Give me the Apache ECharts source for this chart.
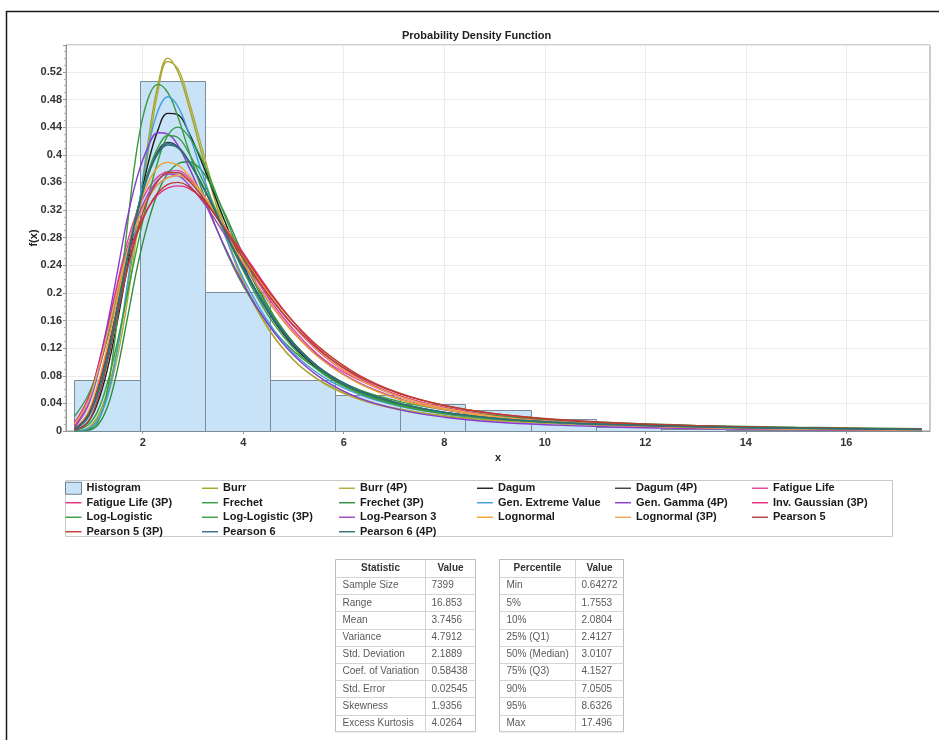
<!DOCTYPE html>
<html>
<head>
<meta charset="utf-8">
<title>Probability Density Function</title>
<script src="https://cdn.jsdelivr.net/npm/echarts@6/dist/echarts.min.js"></script>
<style>
  html, body { margin: 0; padding: 0; background: #ffffff; }
  #chart { width: 939px; height: 740px; }
</style>
</head>
<body>
<div id="chart"></div>
<script>
// ---- histogram: 13 equal-width bins between sample min and max ----
const binEdges = [0.64272, 1.93910, 3.23548, 4.53186, 5.82824, 7.12462, 8.42100,
                  9.71738, 11.01376, 12.31014, 13.60652, 14.90290, 16.19928, 17.49566];
const binDensity = [0.0732, 0.5075, 0.2017, 0.0732, 0.0515, 0.0385, 0.0310,
                    0.0168, 0.0060, 0.0030, 0.0016, 0.0008, 0.0004];

// ---- fitted density curves, sampled at fitX ----
const fitX = [0.643, 0.9, 1.1, 1.3, 1.5, 1.7, 1.9, 2.1, 2.3, 2.5, 2.7, 2.9, 3.2, 3.6,
              4.0, 4.5, 5.0, 5.6, 6.3, 7.1, 8.0, 9.0, 10.2, 11.5, 13, 15, 17.496];

const burr          = [0, 0.004, 0.02, 0.058, 0.12, 0.205, 0.31, 0.415, 0.5, 0.54, 0.52, 0.475, 0.395, 0.295, 0.215, 0.148, 0.103, 0.07, 0.047, 0.032, 0.022, 0.0155, 0.011, 0.008, 0.0055, 0.0037, 0.0022];
const burr4p        = [0, 0.003, 0.016, 0.05, 0.108, 0.19, 0.295, 0.4, 0.49, 0.535, 0.525, 0.483, 0.405, 0.302, 0.218, 0.149, 0.103, 0.069, 0.046, 0.031, 0.021, 0.015, 0.0105, 0.0075, 0.0052, 0.0035, 0.0021];
const dagum         = [0.001, 0.012, 0.04, 0.09, 0.16, 0.24, 0.318, 0.385, 0.435, 0.46, 0.458, 0.435, 0.385, 0.31, 0.24, 0.172, 0.123, 0.084, 0.056, 0.038, 0.026, 0.018, 0.0125, 0.0088, 0.006, 0.004, 0.0024];
const dagum4p       = [0.003, 0.022, 0.06, 0.115, 0.183, 0.256, 0.322, 0.372, 0.405, 0.418, 0.412, 0.393, 0.354, 0.294, 0.236, 0.174, 0.127, 0.087, 0.059, 0.04, 0.027, 0.0185, 0.0128, 0.009, 0.0062, 0.004, 0.0024];
const fatigueLife   = [0.005, 0.035, 0.085, 0.148, 0.215, 0.275, 0.32, 0.35, 0.368, 0.376, 0.377, 0.368, 0.343, 0.298, 0.25, 0.193, 0.147, 0.104, 0.074, 0.05, 0.033, 0.021, 0.0135, 0.0085, 0.005, 0.0028, 0.0013];
const fatigueLife3p = [0.007, 0.04, 0.09, 0.15, 0.212, 0.265, 0.307, 0.337, 0.357, 0.367, 0.37, 0.364, 0.342, 0.3, 0.254, 0.198, 0.152, 0.109, 0.075, 0.051, 0.034, 0.022, 0.014, 0.009, 0.0055, 0.003, 0.0015];
const frechet       = [0, 0.002, 0.012, 0.06, 0.165, 0.3, 0.415, 0.48, 0.502, 0.49, 0.455, 0.41, 0.345, 0.27, 0.21, 0.155, 0.116, 0.084, 0.06, 0.043, 0.031, 0.0225, 0.016, 0.0115, 0.0082, 0.0055, 0.0035];
const frechet3p     = [0, 0.001, 0.008, 0.035, 0.09, 0.165, 0.24, 0.3, 0.345, 0.373, 0.387, 0.39, 0.375, 0.32, 0.255, 0.18, 0.128, 0.086, 0.058, 0.04, 0.027, 0.019, 0.0128, 0.009, 0.006, 0.004, 0.0024];
const genExtreme    = [0, 0.003, 0.015, 0.05, 0.12, 0.215, 0.315, 0.405, 0.463, 0.484, 0.47, 0.435, 0.37, 0.29, 0.222, 0.158, 0.113, 0.078, 0.053, 0.036, 0.025, 0.0175, 0.0122, 0.0087, 0.006, 0.004, 0.0025];
const genGamma4p    = [0.006, 0.038, 0.09, 0.155, 0.232, 0.31, 0.37, 0.41, 0.432, 0.43, 0.414, 0.385, 0.337, 0.272, 0.213, 0.154, 0.11, 0.074, 0.048, 0.031, 0.02, 0.013, 0.0085, 0.0055, 0.0035, 0.002, 0.001];
const invGaussian3p = [0.012, 0.045, 0.09, 0.145, 0.2, 0.252, 0.292, 0.322, 0.342, 0.352, 0.355, 0.352, 0.336, 0.3, 0.258, 0.205, 0.158, 0.113, 0.077, 0.051, 0.033, 0.021, 0.013, 0.008, 0.0047, 0.0025, 0.0011];
const logLogistic   = [0.001, 0.008, 0.028, 0.07, 0.13, 0.2, 0.27, 0.335, 0.39, 0.428, 0.44, 0.428, 0.39, 0.318, 0.248, 0.177, 0.126, 0.086, 0.057, 0.038, 0.026, 0.018, 0.0125, 0.009, 0.0063, 0.0042, 0.0027];
const logLogistic3p = [0.021, 0.05, 0.085, 0.135, 0.195, 0.26, 0.322, 0.373, 0.41, 0.428, 0.425, 0.405, 0.362, 0.296, 0.232, 0.167, 0.12, 0.082, 0.055, 0.037, 0.025, 0.0175, 0.0122, 0.0087, 0.006, 0.004, 0.0026];
const logPearson3   = [0.006, 0.035, 0.08, 0.14, 0.205, 0.265, 0.31, 0.342, 0.363, 0.372, 0.37, 0.358, 0.332, 0.288, 0.242, 0.188, 0.143, 0.102, 0.07, 0.047, 0.031, 0.02, 0.013, 0.0083, 0.0052, 0.003, 0.0015];
const lognormal     = [0.003, 0.025, 0.066, 0.125, 0.193, 0.26, 0.318, 0.358, 0.382, 0.389, 0.385, 0.372, 0.342, 0.293, 0.244, 0.188, 0.142, 0.101, 0.069, 0.046, 0.031, 0.02, 0.013, 0.0085, 0.0054, 0.0032, 0.0016];
const lognormal3p   = [0.01, 0.04, 0.085, 0.142, 0.205, 0.262, 0.305, 0.337, 0.357, 0.367, 0.37, 0.364, 0.342, 0.3, 0.254, 0.2, 0.153, 0.11, 0.075, 0.05, 0.033, 0.021, 0.0133, 0.0083, 0.005, 0.0027, 0.0012];
const pearson5      = [0.001, 0.012, 0.045, 0.1, 0.168, 0.235, 0.292, 0.335, 0.362, 0.374, 0.374, 0.364, 0.338, 0.295, 0.25, 0.197, 0.153, 0.112, 0.079, 0.054, 0.037, 0.025, 0.017, 0.0115, 0.0077, 0.0048, 0.0027];
const pearson5_3p   = [0.003, 0.022, 0.06, 0.115, 0.178, 0.238, 0.287, 0.322, 0.345, 0.357, 0.36, 0.355, 0.335, 0.297, 0.255, 0.203, 0.158, 0.116, 0.081, 0.055, 0.037, 0.025, 0.0165, 0.011, 0.0072, 0.0045, 0.0025];
const pearson6      = [0.003, 0.02, 0.056, 0.11, 0.18, 0.254, 0.32, 0.37, 0.403, 0.416, 0.411, 0.393, 0.354, 0.294, 0.235, 0.172, 0.125, 0.086, 0.058, 0.04, 0.027, 0.0185, 0.0127, 0.0088, 0.006, 0.0039, 0.0022];
const pearson6_4p   = [0.002, 0.018, 0.052, 0.106, 0.176, 0.25, 0.317, 0.368, 0.401, 0.414, 0.41, 0.392, 0.354, 0.295, 0.237, 0.174, 0.127, 0.087, 0.059, 0.04, 0.027, 0.0185, 0.0127, 0.0088, 0.006, 0.0039, 0.0022];

const fitNames = ['Burr', 'Burr (4P)', 'Dagum', 'Dagum (4P)', 'Fatigue Life',
  'Fatigue Life (3P)', 'Frechet', 'Frechet (3P)', 'Gen. Extreme Value', 'Gen. Gamma (4P)',
  'Inv. Gaussian (3P)', 'Log-Logistic', 'Log-Logistic (3P)', 'Log-Pearson 3', 'Lognormal',
  'Lognormal (3P)', 'Pearson 5', 'Pearson 5 (3P)', 'Pearson 6', 'Pearson 6 (4P)'];
const fitValues = [burr, burr4p, dagum, dagum4p, fatigueLife,
  fatigueLife3p, frechet, frechet3p, genExtreme, genGamma4p,
  invGaussian3p, logLogistic, logLogistic3p, logPearson3, lognormal,
  lognormal3p, pearson5, pearson5_3p, pearson6, pearson6_4p];

// ---- axis ticks ----
const xTickValues = [2, 4, 6, 8, 10, 12, 14, 16];

// ---- descriptive statistics tables ----
const statHeads = ['Statistic', 'Value'];
const statLabels = ['Sample Size', 'Range', 'Mean', 'Variance', 'Std. Deviation',
  'Coef. of Variation', 'Std. Error', 'Skewness', 'Excess Kurtosis'];
const statValues = ['7399', '16.853', '3.7456', '4.7912', '2.1889', '0.58438', '0.02545', '1.9356', '4.0264'];
const pctHeads = ['Percentile', 'Value'];
const pctLabels = ['Min', '5%', '10%', '25% (Q1)', '50% (Median)', '75% (Q3)', '90%', '95%', 'Max'];
const pctValues = ['0.64272', '1.7553', '2.0804', '2.4127', '3.0107', '4.1527', '7.0505', '8.6326', '17.496'];

// ---- styling ----
const fitColors = ['#a3a32a', '#b0aa3a', '#1c1c1c', '#3a3a46', '#e8409a',
  '#e0307a', '#3a9a3a', '#2f8c3f', '#3fa0d8', '#8a3ad0',
  '#e82a80', '#2fa040', '#3f9a46', '#a044c0', '#f0a030',
  '#e8a850', '#b04040', '#c0392b', '#2f6a86', '#2f7070'];
const histFill = '#c8e2f8';
const histStroke = '#7d8b99';
const uiFont = '"Liberation Sans", Arial, sans-serif';

const chart = echarts.init(document.getElementById('chart'));

const histSeries = {
  type: 'custom',
  name: 'Histogram',
  z: 2,
  silent: true,
  data: binDensity.map((h, i) => [binEdges[i], binEdges[i + 1], h]),
  encode: { x: [0, 1], y: 2 },
  itemStyle: { color: histFill, borderColor: histStroke, borderWidth: 1 },
  renderItem: function (params, api) {
    const topLeft = api.coord([api.value(0), api.value(2)]);
    const bottomRight = api.coord([api.value(1), 0]);
    return {
      type: 'rect',
      shape: {
        x: Math.round(topLeft[0]) + 0.5,
        y: Math.round(topLeft[1]) + 0.5,
        width: Math.round(bottomRight[0]) - Math.round(topLeft[0]),
        height: Math.round(bottomRight[1]) - Math.round(topLeft[1])
      },
      style: { fill: histFill, stroke: histStroke, lineWidth: 1 }
    };
  },
  markLine: {
    silent: true,
    z: 1,
    symbol: ['none', 'none'],
    label: { show: false },
    animation: false,
    lineStyle: { color: '#ececec', width: 1, type: 'solid' },
    data: xTickValues.map(v => ({ xAxis: v }))
  }
};

const fitSeries = fitNames.map((name, i) => ({
  type: 'line',
  name: name,
  z: 3,
  silent: true,
  smooth: 0.4,
  symbol: 'none',
  data: fitX.map((x, k) => [x, fitValues[i][k]]),
  lineStyle: { width: 1.4, color: fitColors[i] },
  itemStyle: { color: fitColors[i] }
}));

// legend laid out as six columns, row-major order
const legendNames = ['Histogram'].concat(fitNames);
const legendLefts = [65, 202, 339, 477, 615, 752];
const legends = legendLefts.map((left, c) => ({
  orient: 'vertical',
  left: left,
  top: 481,
  padding: 0,
  itemGap: 0,
  itemWidth: 16,
  itemHeight: 12,
  symbolKeepAspect: true,
  selectedMode: false,
  itemStyle: { borderWidth: 0 },
  textStyle: { fontFamily: uiFont, fontSize: 11, fontWeight: 'bold', color: '#1a1a1a', lineHeight: 14.5 },
  data: legendNames.filter((n, k) => k % 6 === c).map(n => n === 'Histogram'
    ? { name: n, icon: 'rect', itemStyle: { color: histFill, borderColor: '#6f7f8f', borderWidth: 1 } }
    : { name: n, icon: 'path://M0,0H16V1.4H0Z' })
}));

function buildTable(x0, xDiv, x1, top, headH, rowH, heads, labels, values) {
  const n = labels.length;
  const bottom = top + headH + n * rowH;
  const els = [{
    type: 'rect', z: 10,
    shape: { x: x0, y: top, width: x1 - x0, height: bottom - top },
    style: { fill: '#ffffff', stroke: '#bcbcbc', lineWidth: 1 }
  }];
  for (let i = 0; i < n; i++) {
    const y = Math.round(top + headH + i * rowH) + 0.5;
    els.push({ type: 'line', z: 11, shape: { x1: x0, y1: y, x2: x1, y2: y },
      style: { stroke: '#d4d4d4', lineWidth: 1 } });
  }
  els.push({ type: 'line', z: 11, shape: { x1: xDiv, y1: top, x2: xDiv, y2: bottom },
    style: { stroke: '#d4d4d4', lineWidth: 1 } });
  els.push({ type: 'text', z: 12, x: (x0 + xDiv) / 2, y: top + headH / 2,
    style: { text: heads[0], align: 'center', verticalAlign: 'middle', font: 'bold 10px ' + uiFont, fill: '#333' } });
  els.push({ type: 'text', z: 12, x: (xDiv + x1) / 2, y: top + headH / 2,
    style: { text: heads[1], align: 'center', verticalAlign: 'middle', font: 'bold 10px ' + uiFont, fill: '#333' } });
  labels.forEach((t, i) => {
    const yc = top + headH + i * rowH + rowH / 2;
    els.push({ type: 'text', z: 12, x: x0 + 7, y: yc,
      style: { text: t, align: 'left', verticalAlign: 'middle', font: '10px ' + uiFont, fill: '#5a5a5a' } });
    els.push({ type: 'text', z: 12, x: xDiv + 6, y: yc,
      style: { text: values[i], align: 'left', verticalAlign: 'middle', font: '10px ' + uiFont, fill: '#5a5a5a' } });
  });
  return els;
}

const graphics = [
  // page frame
  { type: 'line', shape: { x1: 6, y1: 11.5, x2: 939, y2: 11.5 }, style: { stroke: '#1a1a1a', lineWidth: 1.5 } },
  { type: 'line', shape: { x1: 6.5, y1: 11, x2: 6.5, y2: 740 }, style: { stroke: '#1a1a1a', lineWidth: 1.5 } },
  // legend frame
  { type: 'rect', shape: { x: 65.5, y: 480.5, width: 827, height: 56 },
    style: { fill: 'none', stroke: '#c9c9c9', lineWidth: 1 } }
].concat(
  buildTable(335.5, 425.5, 475.5, 559.5, 17.5, 17.2, statHeads, statLabels, statValues),
  buildTable(499.5, 575.5, 623.5, 559.5, 17.5, 17.2, pctHeads, pctLabels, pctValues)
);

chart.setOption({
  animation: false,
  backgroundColor: '#ffffff',
  title: {
    text: 'Probability Density Function',
    left: 402, top: 30, padding: 0,
    textStyle: { fontFamily: uiFont, fontSize: 11, fontWeight: 'bold', color: '#222' }
  },
  grid: {
    left: 66, top: 45, right: 9, bottom: 309,
    show: true, borderColor: '#9a9a9a', borderWidth: 1, backgroundColor: '#ffffff'
  },
  xAxis: {
    type: 'value',
    min: 0.4742, max: 17.6646,
    name: 'x', nameLocation: 'middle', nameGap: 17,
    nameTextStyle: { fontFamily: uiFont, fontSize: 11, fontWeight: 'bold', color: '#222' },
    axisLine: { show: true, lineStyle: { color: '#9a9a9a' } },
    axisTick: { show: true, customValues: xTickValues, length: 3, lineStyle: { color: '#9a9a9a' } },
    axisLabel: { customValues: xTickValues, margin: 6, fontFamily: uiFont, fontSize: 11, fontWeight: 'bold', color: '#333' },
    splitLine: { show: false }
  },
  yAxis: {
    type: 'value',
    min: 0, max: 0.559, interval: 0.04,
    name: 'f(x)', nameLocation: 'middle', nameGap: 27, nameRotate: 90,
    nameMoveOverlap: false,
    nameTextStyle: { fontFamily: uiFont, fontSize: 11, fontWeight: 'bold', color: '#222' },
    axisLine: { show: true, lineStyle: { color: '#9a9a9a' } },
    axisTick: { show: true, length: 3, lineStyle: { color: '#9a9a9a' } },
    minorTick: { show: true, splitNumber: 4, length: 2, lineStyle: { color: '#b0b0b0' } },
    axisLabel: { showMaxLabel: false, margin: 4, fontFamily: uiFont, fontSize: 11, fontWeight: 'bold', color: '#333' },
    splitLine: { show: true, lineStyle: { color: '#ececec', width: 1 } }
  },
  legend: legends,
  graphic: graphics,
  series: [histSeries].concat(fitSeries)
});
</script>
</body>
</html>
